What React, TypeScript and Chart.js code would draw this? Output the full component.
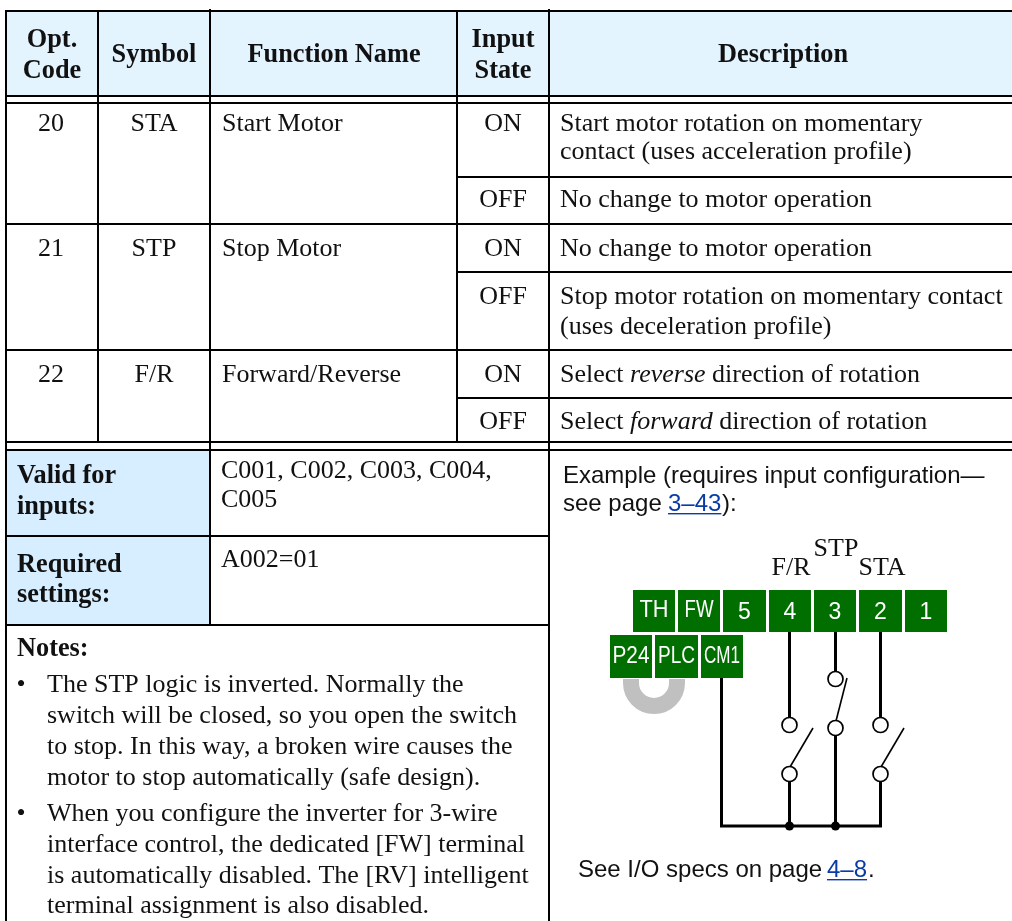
import React, { useEffect, useRef } from "react";
import { Chart, registerables } from "chart.js";

Chart.register(...registerables);

// ---- table content
const headers = [
  { lines: ["Opt.", "Code"], cx: 52 },
  { lines: ["Symbol"], cx: 154 },
  { lines: ["Function Name"], cx: 334 },
  { lines: ["Input", "State"], cx: 503 },
  { lines: ["Description"], cx: 783 },
];
const optCodes = ["20", "21", "22"];
const symbols = ["STA", "STP", "F/R"];
const functionNames = ["Start Motor", "Stop Motor", "Forward/Reverse"];
const rowBaselines = [131, 256, 382];
const inputStates = ["ON", "OFF", "ON", "OFF", "ON", "OFF"];
const stateBaselines = [131, 207, 256, 304, 382, 429];
type Run = { t: string; i?: boolean };
const descriptions: { y: number; runs: Run[] }[] = [
  { y: 131, runs: [{ t: "Start motor rotation on momentary" }] },
  { y: 159, runs: [{ t: "contact (uses acceleration profile)" }] },
  { y: 207, runs: [{ t: "No change to motor operation" }] },
  { y: 256, runs: [{ t: "No change to motor operation" }] },
  { y: 304, runs: [{ t: "Stop motor rotation on momentary contact" }] },
  { y: 334, runs: [{ t: "(uses deceleration profile)" }] },
  { y: 382, runs: [{ t: "Select " }, { t: "reverse", i: true }, { t: " direction of rotation" }] },
  { y: 429, runs: [{ t: "Select " }, { t: "forward", i: true }, { t: " direction of rotation" }] },
];
const boldLeft = [
  { t: "Valid for", y: 483 },
  { t: "inputs:", y: 514 },
  { t: "Required", y: 572 },
  { t: "settings:", y: 602 },
  { t: "Notes:", y: 656 },
];
const plainMid = [
  { t: "C001, C002, C003, C004,", y: 478 },
  { t: "C005", y: 507 },
  { t: "A002=01", y: 567 },
];
const notes = [
  { t: "The STP logic is inverted. Normally the", y: 692, bullet: true },
  { t: "switch will be closed, so you open the switch", y: 723 },
  { t: "to stop. In this way, a broken wire causes the", y: 754 },
  { t: "motor to stop automatically (safe design).", y: 785 },
  { t: "When you configure the inverter for 3-wire", y: 821, bullet: true },
  { t: "interface control, the dedicated [FW] terminal", y: 852 },
  { t: "is automatically disabled. The [RV] intelligent", y: 883 },
  { t: "terminal assignment is also disabled.", y: 913 },
];

// ---- table rules: [x0, y0, x1, y1]
const rules: number[][] = [
  [6, 11, 1012, 11], [6, 96, 1012, 96], [6, 103, 1012, 103],
  [457, 177, 1012, 177], [6, 224, 1012, 224], [457, 272, 1012, 272],
  [6, 350, 1012, 350], [457, 398, 1012, 398], [6, 442, 1012, 442], [6, 450, 1012, 450],
  [6, 536, 549, 536], [6, 625, 549, 625],
  [6, 10, 6, 921], [98, 10, 98, 442], [210, 9, 210, 625], [457, 10, 457, 442], [549, 9, 549, 921],
];
const fills = [
  { x0: 6, y0: 11, x1: 1012, y1: 96, c: "#e3f4ff" },
  { x0: 6, y0: 450, x1: 210, y1: 625, c: "#d6eeff" },
];

// ---- wiring diagram
const terminals = [
  { t: "TH", x0: 633, x1: 675, y0: 590, y1: 632, s: 24, b: 617, mw: 29 },
  { t: "FW", x0: 678, x1: 720, y0: 590, y1: 632, s: 24, b: 617, mw: 29 },
  { t: "5", x0: 723, x1: 766, y0: 590, y1: 632, s: 23, b: 619, mw: 0 },
  { t: "4", x0: 769, x1: 811, y0: 590, y1: 632, s: 23, b: 619, mw: 0 },
  { t: "3", x0: 814, x1: 856, y0: 590, y1: 632, s: 23, b: 619, mw: 0 },
  { t: "2", x0: 859, x1: 902, y0: 590, y1: 632, s: 23, b: 619, mw: 0 },
  { t: "1", x0: 905, x1: 947, y0: 590, y1: 632, s: 23, b: 619, mw: 0 },
  { t: "P24", x0: 610, x1: 652, y0: 635, y1: 678, s: 24, b: 663, mw: 37 },
  { t: "PLC", x0: 655, x1: 698, y0: 635, y1: 678, s: 24, b: 663, mw: 37 },
  { t: "CM1", x0: 701, x1: 743, y0: 635, y1: 678, s: 24, b: 663, mw: 36 },
];
const terminalLabels = [
  { t: "F/R", x: 791, y: 575 },
  { t: "STP", x: 836, y: 556 },
  { t: "STA", x: 882, y: 575 },
];
const wires: number[][] = [
  [721.5, 678, 721.5, 826, 3], [720, 826, 882, 826, 3],
  [789.5, 632, 789.5, 717, 3], [789.5, 782, 789.5, 826, 3],
  [835.5, 632, 835.5, 671, 3], [835.5, 736, 835.5, 826, 3],
  [880.5, 632, 880.5, 717, 3], [880.5, 782, 880.5, 826, 3],
  [790, 767, 813, 728, 1.6], [881, 767, 904, 728, 1.6], [836, 721, 847, 678, 1.6],
];
const contacts = [
  { x: 789.5, y: 725 }, { x: 789.5, y: 774 },
  { x: 835.5, y: 679 }, { x: 835.5, y: 728 },
  { x: 880.5, y: 725 }, { x: 880.5, y: 774 },
];
const junctions = [{ x: 789.5, y: 826 }, { x: 835.5, y: 826 }];
const jumper = { cx: 654, cy: 683, r: 23, w: 16 };

const example = [
  { t: "Example (requires input configuration—", x: 563, y: 483, link: false },
  { t: "see page ", x: 563, y: 511, link: false },
  { t: "3–43", x: 668, y: 511, link: true },
  { t: "):", x: 722, y: 511, link: false },
  { t: "See I/O specs on page ", x: 578, y: 877, link: false },
  { t: "4–8", x: 827, y: 877, link: true },
  { t: ".", x: 868, y: 877, link: false },
];

const SERIF = '"Liberation Serif"';
const SANS = '"Liberation Sans"';
const INK = "#111111";
const SIZE = 26;
const BOLD_SIZE = 26.3;

const tablePlugin = {
  id: "tablePlugin",
  beforeDatasetsDraw(chart: any) {
    const { ctx, scales } = chart;
    const X = (v: number) => scales.x.getPixelForValue(v);
    const Y = (v: number) => scales.y.getPixelForValue(v);
    ctx.save();
    ctx.fillStyle = "#ffffff";
    ctx.fillRect(0, 0, chart.width, chart.height);
    fills.forEach((f) => {
      ctx.fillStyle = f.c;
      ctx.fillRect(X(f.x0), Y(f.y0), X(f.x1) - X(f.x0), Y(f.y1) - Y(f.y0));
    });
    ctx.strokeStyle = "#c0c0c0";
    ctx.lineWidth = jumper.w;
    ctx.beginPath();
    ctx.moveTo(X(jumper.cx - jumper.r), Y(679));
    ctx.lineTo(X(jumper.cx - jumper.r), Y(jumper.cy));
    ctx.arc(X(jumper.cx), Y(jumper.cy), jumper.r, Math.PI, 0, true);
    ctx.lineTo(X(jumper.cx + jumper.r), Y(679));
    ctx.stroke();
    terminals.forEach((b) => {
      ctx.fillStyle = "#006f00";
      ctx.fillRect(X(b.x0), Y(b.y0), X(b.x1) - X(b.x0), Y(b.y1) - Y(b.y0));
    });
    ctx.restore();
  },
  afterDatasetsDraw(chart: any) {
    const { ctx, scales } = chart;
    const X = (v: number) => scales.x.getPixelForValue(v);
    const Y = (v: number) => scales.y.getPixelForValue(v);
    const put = (t: string, x: number, y: number, font: string, align = "left", color = INK, mw?: number) => {
      ctx.font = font;
      ctx.textAlign = align;
      ctx.textBaseline = "alphabetic";
      ctx.fillStyle = color;
      if (mw) ctx.fillText(t, X(x), Y(y), mw);
      else ctx.fillText(t, X(x), Y(y));
    };
    ctx.save();
    const B = `bold ${BOLD_SIZE}px ${SERIF}`;
    const R = `${SIZE}px ${SERIF}`;
    const I = `italic ${SIZE}px ${SERIF}`;
    headers.forEach((h) => {
      if (h.lines.length === 2) {
        put(h.lines[0], h.cx, 47, B, "center");
        put(h.lines[1], h.cx, 78, B, "center");
      } else put(h.lines[0], h.cx, 62, B, "center");
    });
    optCodes.forEach((t, i) => put(t, 51, rowBaselines[i], R, "center"));
    symbols.forEach((t, i) => put(t, 154, rowBaselines[i], R, "center"));
    functionNames.forEach((t, i) => put(t, 222, rowBaselines[i], R));
    inputStates.forEach((t, i) => put(t, 503, stateBaselines[i], R, "center"));
    descriptions.forEach((d) => {
      let x = 560;
      d.runs.forEach((r) => {
        const f = r.i ? I : R;
        put(r.t, x, d.y, f);
        x += ctx.measureText(r.t).width;
      });
    });
    boldLeft.forEach((b) => put(b.t, 17, b.y, B));
    plainMid.forEach((b) => put(b.t, 221, b.y, R));
    notes.forEach((n) => {
      put(n.t, 47, n.y, R);
      if (n.bullet) put("•", 16.5, n.y, R);
    });
    terminals.forEach((b) => {
      put(b.t, (b.x0 + b.x1) / 2, b.b, `${b.s}px ${SANS}`, "center", "#ffffff", b.mw || undefined);
    });
    terminalLabels.forEach((l) => put(l.t, l.x, l.y, `${SIZE}px ${SERIF}`, "center"));
    example.forEach((e) => {
      const c = e.link ? "#0a3ca8" : INK;
      put(e.t, e.x, e.y, `24px ${SANS}`, "left", c);
      if (e.link) {
        const w = ctx.measureText(e.t).width;
        ctx.fillStyle = c;
        ctx.fillRect(X(e.x), Y(e.y + 2), w, 1.4);
      }
    });
    ctx.restore();
  },
};

export default function App() {
  const ref = useRef<HTMLCanvasElement | null>(null);
  useEffect(() => {
    document.body.style.margin = "0";
    const seg = (s: number[], color: string, width: number) => ({
      type: "line" as const,
      data: [{ x: s[0], y: s[1] }, { x: s[2], y: s[3] }],
      borderColor: color,
      borderWidth: width,
      pointRadius: 0,
      clip: false,
      order: 5,
    });
    const chart = new Chart(ref.current as HTMLCanvasElement, {
      type: "scatter",
      data: {
        datasets: [
          {
            type: "scatter" as const,
            data: junctions,
            pointRadius: 4.5,
            pointBackgroundColor: "#000000",
            pointBorderWidth: 0,
            order: 1,
          },
          {
            type: "scatter" as const,
            data: contacts,
            pointRadius: 7.5,
            pointBackgroundColor: "#ffffff",
            pointBorderColor: "#000000",
            pointBorderWidth: 1.7,
            order: 2,
          },
          ...wires.map((s) => seg(s, "#000000", s[4])),
          ...rules.map((s) => seg(s, "#000000", 2)),
        ] as any,
      },
      options: {
        animation: false,
        responsive: false,
        devicePixelRatio: 1,
        layout: { padding: 0, autoPadding: false },
        events: [],
        plugins: { legend: { display: false }, tooltip: { enabled: false }, title: { display: false } },
        scales: {
          x: { type: "linear", min: 0, max: 1012, display: false },
          y: { type: "linear", min: 0, max: 921, reverse: true, display: false },
        },
      },
      plugins: [tablePlugin],
    });
    return () => chart.destroy();
  }, []);
  return <canvas ref={ref} width={1012} height={921} style={{ display: "block", width: 1012, height: 921 }} />;
}
